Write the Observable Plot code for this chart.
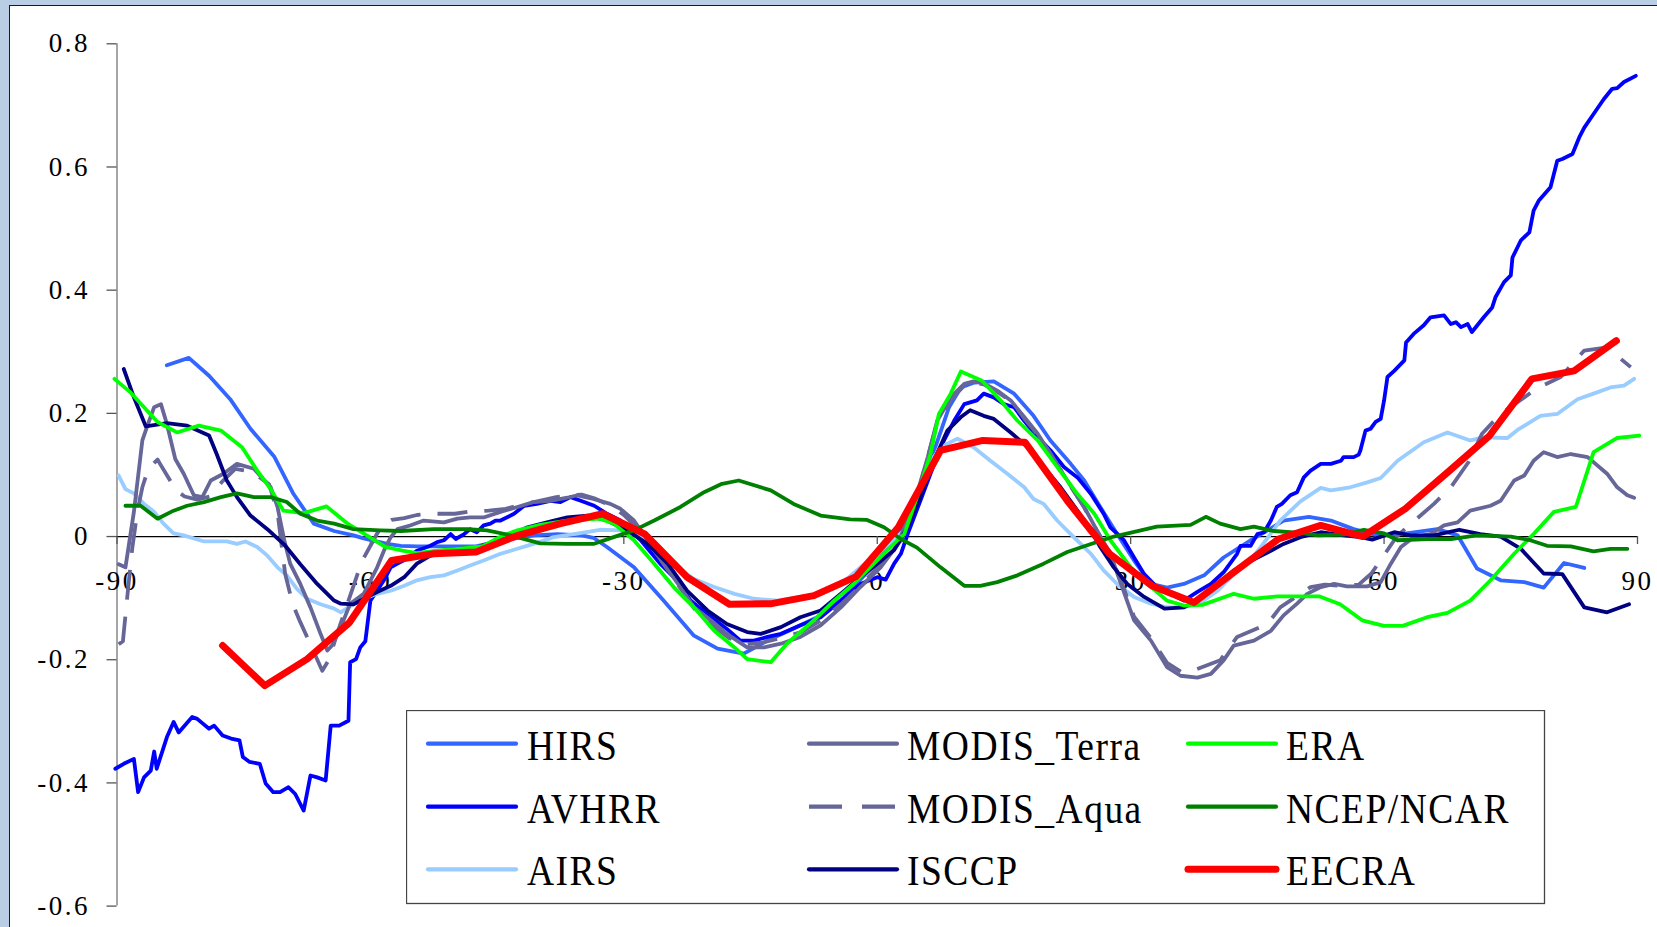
<!DOCTYPE html>
<html>
<head>
<meta charset="utf-8">
<script src="https://cdn.jsdelivr.net/npm/d3@7"></script>
<script src="https://cdn.jsdelivr.net/npm/@observablehq/plot@0.6"></script>
<style>
  html, body { margin: 0; padding: 0; background: #b9cde5; }
  #wrap { position: relative; width: 1657px; height: 927px; overflow: hidden; background: #b9cde5; }
  #panel { position: absolute; left: 9px; top: 5px; width: 1700px; height: 960px; background: #fff; border-left: 1.5px solid #1a1a1a; border-top: 1.5px solid #1a1a1a; }
  #chart { position: absolute; left: 0; top: 0; }
  #chart svg text { font-family: "Liberation Serif", serif !important; letter-spacing: 2.5px; }
  #legend { position: absolute; left: 406px; top: 710px; }
  #legend text { font-family: "Liberation Serif", serif; letter-spacing: 1.5px; }
</style>
</head>
<body>
<div id="wrap">
  <div id="panel"></div>
  <div id="chart"></div>
  <svg id="legend" width="1140" height="195"></svg>
</div>
<script>
// ---------- data (latitude, value) ----------
const xTicks = [-90, -60, -30, 0, 30, 60, 90];
const yTicks = [-0.6, -0.4, -0.2, 0, 0.2, 0.4, 0.6, 0.8];
const seriesNames = ["HIRS", "AVHRR", "AIRS", "MODIS_Terra", "MODIS_Aqua", "ISCCP", "ERA", "NCEP/NCAR", "EECRA"];

const HIRS = [[-84.1,0.278],[-81.5,0.29],[-79.1,0.261],[-76.6,0.223],[-74.2,0.175],[-71.4,0.130],[-69.1,0.069],[-68.3,0.053],[-66.7,0.021],[-64.3,0.009],[-62,0.002],[-60.8,-0.003],[-58,-0.012],[-56.4,-0.015],[-54.5,-0.016],[-50,-0.016],[-47.5,-0.016],[-44.6,-0.007],[-40.7,0.002],[-37.9,0.004],[-35,0.002],[-33.6,-0.002],[-32,-0.017],[-28.8,-0.05],[-25.3,-0.104],[-21.7,-0.161],[-18.9,-0.182],[-15.8,-0.19],[-13.0,-0.169],[-10,-0.15],[-7,-0.13],[-4,-0.10],[-2,-0.07],[0,-0.04],[2,-0.005],[3.5,0.03],[5,0.08],[7,0.15],[8.5,0.21],[9.9,0.242],[11.5,0.25],[13.8,0.252],[16.2,0.232],[18.5,0.196],[20.5,0.156],[22.9,0.118],[24.5,0.091],[26.4,0.048],[28.4,0.004],[30.4,-0.039],[32.4,-0.077],[34.3,-0.083],[36.3,-0.077],[38.7,-0.063],[41.0,-0.034],[44.2,-0.006],[46.2,0.010],[48.1,0.026],[51.1,0.032],[53.7,0.026],[56.4,0.012],[59.2,0.002],[62,0.004],[66.3,0.012],[68.7,0.002],[71.0,-0.052],[73.8,-0.071],[76.6,-0.074],[78.9,-0.083],[81.3,-0.043],[83.7,-0.051]];

const AVHRR = [[-90.2,-0.377],[-89.2,-0.369],[-88.0,-0.361],[-87.5,-0.415],[-86.8,-0.391],[-86.0,-0.380],[-85.6,-0.349],[-85.3,-0.377],[-84.1,-0.326],[-83.3,-0.301],[-82.7,-0.318],[-81.1,-0.293],[-80.5,-0.296],[-79.9,-0.303],[-79.1,-0.312],[-78.5,-0.307],[-77.5,-0.323],[-76.5,-0.328],[-75.5,-0.331],[-75.1,-0.358],[-74.3,-0.366],[-73.1,-0.369],[-72.4,-0.401],[-71.5,-0.415],[-70.7,-0.415],[-69.7,-0.407],[-68.9,-0.418],[-67.9,-0.445],[-67.1,-0.388],[-66.3,-0.391],[-65.3,-0.396],[-64.7,-0.307],[-63.7,-0.307],[-62.6,-0.299],[-62.4,-0.204],[-61.7,-0.199],[-61.2,-0.180],[-60.6,-0.170],[-60.0,-0.104],[-58.4,-0.071],[-57.6,-0.050],[-56.8,-0.044],[-55.7,-0.036],[-54.5,-0.023],[-52.9,-0.015],[-52.1,-0.009],[-51.3,-0.006],[-50.5,0.004],[-49.9,-0.004],[-48.9,0.004],[-48.2,0.012],[-47.4,0.007],[-46.6,0.018],[-45.8,0.021],[-45.2,0.026],[-44.6,0.026],[-43.0,0.037],[-41.8,0.05],[-40.3,0.053],[-38.7,0.058],[-37.5,0.056],[-36.3,0.064],[-35.1,0.058],[-33.5,0.050],[-32.0,0.037],[-30.4,0.026],[-28.0,-0.006],[-25.7,-0.044],[-23.7,-0.071],[-22.1,-0.104],[-20.1,-0.126],[-17.8,-0.150],[-16.2,-0.169],[-14.6,-0.169],[-13.0,-0.163],[-11.4,-0.158],[-9.1,-0.144],[-6.7,-0.131],[-4.3,-0.104],[-2.0,-0.077],[0,-0.066],[1.0,-0.07],[2.0,-0.044],[2.8,-0.028],[3.6,0.004],[5.1,0.058],[6.3,0.102],[7.5,0.145],[9.1,0.188],[10.3,0.215],[11.8,0.221],[12.6,0.232],[13.8,0.226],[15.0,0.215],[16.2,0.21],[17.4,0.188],[19.0,0.161],[20.5,0.140],[22.1,0.113],[23.7,0.096],[25.3,0.069],[26.8,0.037],[27.6,0.015],[29.2,-0.006],[30.4,-0.034],[31.6,-0.061],[33.1,-0.082],[34.7,-0.093],[36.3,-0.104],[37.9,-0.090],[39.5,-0.077],[41.0,-0.058],[42.6,-0.028],[43.0,-0.015],[44.2,-0.015],[45.0,0.004],[45.8,0.007],[46.6,0.026],[47.3,0.048],[47.9,0.053],[48.9,0.067],[49.7,0.072],[50.5,0.096],[51.3,0.107],[52.5,0.118],[53.7,0.118],[54.9,0.123],[55.2,0.129],[56.4,0.129],[57.0,0.133],[57.2,0.140],[57.8,0.172],[58.4,0.175],[59.0,0.186],[59.6,0.191],[60.0,0.221],[60.4,0.259],[61.2,0.269],[62.4,0.286],[62.6,0.315],[63.5,0.329],[64.7,0.343],[65.5,0.356],[67.1,0.359],[67.9,0.345],[68.5,0.348],[69.1,0.340],[69.9,0.345],[70.4,0.332],[71.8,0.356],[72.8,0.372],[73.2,0.389],[74.2,0.413],[75.0,0.424],[75.2,0.453],[76.2,0.481],[77.2,0.494],[77.7,0.529],[78.3,0.545],[79.7,0.567],[80.5,0.610],[81.1,0.613],[82.3,0.621],[83.1,0.648],[83.7,0.664],[84.8,0.686],[86.0,0.71],[87.0,0.727],[87.6,0.728],[88.4,0.738],[89.8,0.748]];

const AIRS = [[-89.8,0.099],[-89.0,0.077],[-88.0,0.070],[-86.8,0.053],[-85.6,0.040],[-84.5,0.021],[-83.3,0.005],[-82.1,0.002],[-79.7,-0.008],[-77.0,-0.008],[-75.8,-0.012],[-74.8,-0.008],[-73.4,-0.017],[-72.2,-0.031],[-71.0,-0.050],[-69.9,-0.063],[-68.7,-0.085],[-67.5,-0.101],[-65.9,-0.110],[-64.3,-0.117],[-63.5,-0.123],[-62.4,-0.113],[-60.8,-0.101],[-59.2,-0.093],[-57.6,-0.088],[-56.0,-0.080],[-54.5,-0.071],[-52.9,-0.066],[-51.3,-0.063],[-49.7,-0.055],[-48.2,-0.047],[-46.6,-0.039],[-44.6,-0.028],[-43.4,-0.023],[-40.7,-0.012],[-38.3,-0.001],[-35.9,0.004],[-32.8,0.011],[-30.4,0.010],[-28.0,-0.001],[-25.7,-0.028],[-23.7,-0.050],[-21.7,-0.069],[-19.3,-0.082],[-16.9,-0.093],[-14.6,-0.101],[-11.8,-0.104],[-9.1,-0.098],[-6.7,-0.093],[-4.3,-0.077],[-2.0,-0.050],[0,-0.028],[1.5,-0.01],[3.2,0.010],[5.1,0.069],[6.7,0.129],[7.5,0.145],[9.5,0.159],[11.4,0.145],[13.4,0.123],[15.4,0.102],[17.4,0.080],[18.5,0.061],[19.7,0.053],[21.3,0.026],[22.9,0.004],[25.3,-0.028],[26.8,-0.055],[28.4,-0.077],[30.4,-0.098],[32.4,-0.109],[34.3,-0.115],[36.3,-0.115],[38.3,-0.107],[40.3,-0.088],[42.2,-0.061],[44.2,-0.038],[45.4,-0.017],[46.6,0.005],[47.7,0.026],[50.1,0.057],[52.5,0.079],[53.7,0.075],[56.0,0.080],[58.0,0.088],[59.6,0.095],[61.6,0.123],[64.7,0.153],[67.5,0.169],[70.2,0.156],[71.8,0.161],[74.6,0.160],[75.8,0.173],[78.5,0.196],[80.5,0.199],[82.9,0.223],[84.8,0.232],[86.8,0.242],[88.4,0.245],[89.6,0.256]];

const MODIS_Terra = [[-89.8,-0.045],[-89.0,-0.05],[-88.0,0.04],[-87.0,0.156],[-86.4,0.180],[-85.6,0.210],[-84.8,0.215],[-84.1,0.183],[-83.1,0.126],[-82.1,0.102],[-80.9,0.067],[-79.9,0.064],[-78.9,0.091],[-77.4,0.102],[-75.8,0.118],[-73.8,0.110],[-71.8,0.080],[-71.0,0.048],[-70.2,-0.006],[-69.5,-0.044],[-68.3,-0.077],[-67.1,-0.115],[-65.9,-0.158],[-65.1,-0.185],[-64.5,-0.176],[-63.5,-0.147],[-62.4,-0.109],[-60.8,-0.093],[-59.2,-0.050],[-58.4,-0.023],[-57.6,-0.001],[-56.8,0.012],[-55.3,0.018],[-53.7,0.026],[-51.3,0.023],[-49.7,0.029],[-48.2,0.031],[-46.6,0.031],[-44.6,0.040],[-42.6,0.048],[-40.7,0.056],[-38.7,0.058],[-36.7,0.063],[-35.5,0.067],[-33.6,0.061],[-31.6,0.053],[-30.4,0.045],[-28.8,0.026],[-27.2,-0.006],[-25.3,-0.044],[-23.3,-0.082],[-21.7,-0.115],[-19.7,-0.136],[-17.8,-0.158],[-15.4,-0.180],[-13.4,-0.180],[-11.4,-0.174],[-9.1,-0.163],[-6.7,-0.144],[-4.3,-0.115],[-2.0,-0.082],[0.4,-0.050],[2.8,-0.006],[4.5,0.06],[6.0,0.13],[7.1,0.188],[8.7,0.226],[10.3,0.248],[11.4,0.252],[12.6,0.249],[14.2,0.237],[15.8,0.221],[17.4,0.194],[19.0,0.167],[20.5,0.134],[22.5,0.091],[24.5,0.048],[26.0,0.010],[27.6,-0.028],[28.8,-0.075],[30.4,-0.136],[32.4,-0.169],[34.3,-0.212],[35.9,-0.226],[37.9,-0.229],[39.5,-0.223],[41.0,-0.201],[42.2,-0.177],[44.6,-0.169],[46.6,-0.153],[48.1,-0.128],[49.7,-0.109],[50.9,-0.093],[52.5,-0.082],[54.1,-0.077],[55.6,-0.081],[58.0,-0.081],[59.6,-0.074],[60.8,-0.044],[62.0,-0.017],[63.5,-0.001],[65.5,0.004],[67.1,0.018],[68.7,0.023],[70.2,0.042],[72.6,0.050],[73.8,0.058],[75.4,0.091],[76.6,0.099],[77.7,0.123],[78.9,0.137],[80.5,0.129],[82.1,0.134],[84.1,0.129],[86.4,0.102],[87.6,0.080],[88.8,0.067],[89.6,0.063]];

const MODIS_Aqua = [[-89.8,-0.175],[-89.3,-0.17],[-88.8,-0.10],[-88.2,-0.02],[-87.6,0.04],[-87.0,0.08],[-86.3,0.11],[-85.2,0.125],[-84.9,0.118],[-83.0,0.075],[-82.0,0.065],[-80.5,0.06],[-79.0,0.065],[-77.5,0.09],[-76.0,0.11],[-74.0,0.105],[-72.0,0.085],[-71.0,0.04],[-70.1,-0.06],[-69.2,-0.11],[-68.3,-0.139],[-67.3,-0.169],[-65.7,-0.218],[-64.9,-0.20],[-64.0,-0.16],[-63.0,-0.12],[-62.0,-0.08],[-61.0,-0.04],[-60.0,-0.015],[-59.2,0.005],[-58.4,0.02],[-57.5,0.027],[-56.0,0.03],[-54.5,0.035],[-52.5,0.037],[-50.0,0.037],[-48.5,0.040],[-46.0,0.042],[-44.0,0.045],[-42.0,0.052],[-40.0,0.058],[-38.0,0.064],[-36.0,0.067],[-35.0,0.068],[-33.5,0.062],[-31.5,0.05],[-30.0,0.035],[-28.5,0.015],[-27.0,-0.01],[-25.0,-0.05],[-23.0,-0.09],[-21.5,-0.12],[-19.5,-0.145],[-17.5,-0.165],[-15.5,-0.175],[-13.5,-0.172],[-11.5,-0.165],[-9.0,-0.155],[-6.5,-0.135],[-4.3,-0.11],[-2.0,-0.08],[0.4,-0.045],[2.8,0.0],[5.0,0.08],[7.0,0.18],[8.7,0.222],[10.3,0.245],[11.4,0.25],[12.6,0.247],[14.2,0.235],[16.0,0.218],[17.5,0.19],[19.0,0.165],[20.5,0.135],[22.5,0.09],[24.5,0.047],[26.0,0.01],[27.6,-0.03],[28.8,-0.07],[30.4,-0.13],[32.4,-0.165],[34.3,-0.205],[36.0,-0.22],[37.3,-0.218],[40.6,-0.201],[42.6,-0.163],[46.2,-0.142],[47.7,-0.115],[51.3,-0.082],[53.0,-0.078],[55.0,-0.08],[57.0,-0.078],[58.5,-0.06],[60.0,-0.03],[61.5,0.0],[62.7,0.015],[65.9,0.053],[67.9,0.080],[70.0,0.121],[71.6,0.167],[73.8,0.199],[76.0,0.22],[78.0,0.24],[80.9,0.259],[83.7,0.302],[86.4,0.307],[89.2,0.275]];

const ISCCP = [[-89.2,0.272],[-88.0,0.226],[-86.6,0.179],[-84.1,0.184],[-81.7,0.180],[-79.1,0.164],[-78.2,0.134],[-77.0,0.091],[-75.8,0.064],[-74.2,0.034],[-72.2,0.012],[-70.2,-0.013],[-68.3,-0.045],[-66.3,-0.077],[-64.3,-0.104],[-63.5,-0.109],[-62.0,-0.110],[-60.8,-0.101],[-59.2,-0.090],[-57.6,-0.080],[-56.0,-0.066],[-54.5,-0.044],[-52.9,-0.031],[-51.3,-0.023],[-49.7,-0.020],[-47.4,-0.018],[-44.6,-0.005],[-41.4,0.015],[-39.1,0.023],[-36.7,0.031],[-34.3,0.034],[-32.0,0.026],[-29.6,0.010],[-27.2,-0.012],[-24.8,-0.044],[-22.5,-0.088],[-20.1,-0.120],[-17.8,-0.142],[-15.4,-0.155],[-13.8,-0.158],[-11.4,-0.147],[-9.1,-0.131],[-6.7,-0.120],[-4.3,-0.093],[-2.0,-0.066],[0.0,-0.044],[2.0,-0.022],[3.6,0.015],[5.1,0.064],[6.7,0.123],[8.3,0.172],[9.9,0.194],[11.0,0.205],[12.6,0.196],[13.8,0.191],[15.8,0.169],[17.8,0.145],[19.7,0.113],[21.7,0.080],[23.7,0.042],[25.3,0.010],[26.4,-0.017],[28.0,-0.050],[29.6,-0.077],[31.6,-0.098],[34.0,-0.117],[36.3,-0.115],[37.9,-0.104],[40.3,-0.077],[42.2,-0.055],[44.2,-0.040],[46.6,-0.023],[48.1,-0.012],[50.1,-0.001],[52.5,0.007],[55.2,0.002],[57.2,-0.001],[58.6,-0.005],[61.2,0.007],[63.1,0.002],[65.9,0.002],[68.9,0.011],[71.4,0.004],[73.8,0.000],[76.2,-0.020],[78.9,-0.060],[81.1,-0.061],[83.7,-0.115],[86.4,-0.123],[89.0,-0.110]];

const ERA = [[-90.3,0.256],[-88.4,0.234],[-86.8,0.210],[-85.2,0.186],[-82.9,0.169],[-80.3,0.180],[-77.7,0.172],[-75.2,0.145],[-73.4,0.107],[-71.8,0.077],[-70.3,0.042],[-67.9,0.038],[-65.2,0.049],[-62.8,0.022],[-60.2,0.0],[-58.2,-0.017],[-56.2,-0.023],[-54.5,-0.027],[-52.1,-0.023],[-49.7,-0.020],[-47.4,-0.017],[-46.6,-0.015],[-44.6,0.0],[-42.6,0.010],[-39.9,0.019],[-36.7,0.026],[-32.8,0.029],[-31.2,0.021],[-28.8,-0.006],[-26.4,-0.044],[-24.1,-0.082],[-21.7,-0.115],[-19.3,-0.153],[-16.9,-0.180],[-15.4,-0.199],[-12.6,-0.204],[-10.7,-0.174],[-7.5,-0.136],[-5.1,-0.104],[-2.8,-0.077],[-0.4,-0.044],[2.4,-0.006],[3.2,0.004],[4.7,0.064],[6.3,0.134],[7.3,0.199],[8.7,0.232],[9.9,0.268],[12.4,0.253],[14.6,0.221],[16.6,0.188],[19.0,0.156],[21.3,0.113],[23.7,0.069],[25.7,0.037],[27.6,-0.006],[30.0,-0.050],[32.0,-0.077],[34.3,-0.104],[36.3,-0.112],[38.5,-0.111],[42.2,-0.093],[44.6,-0.101],[47.4,-0.097],[50.1,-0.097],[52.3,-0.097],[54.8,-0.110],[57.4,-0.136],[60.0,-0.145],[62.2,-0.145],[65.1,-0.131],[67.5,-0.124],[70.2,-0.104],[72.6,-0.071],[75.4,-0.028],[77.7,0.004],[80.1,0.040],[82.7,0.048],[84.8,0.137],[87.6,0.160],[90.2,0.164]];

const NCEP_NCAR = [[-89.0,0.050],[-87.2,0.050],[-85.2,0.029],[-83.3,0.042],[-81.7,0.050],[-79.7,0.056],[-77.7,0.064],[-75.8,0.070],[-73.8,0.064],[-71.8,0.064],[-69.9,0.056],[-68.3,0.037],[-66.3,0.026],[-64.3,0.021],[-62.0,0.012],[-58.8,0.010],[-56.4,0.009],[-52.5,0.012],[-48.5,0.012],[-46.2,0.010],[-43.4,0.002],[-39.9,-0.011],[-36.7,-0.012],[-33.6,-0.012],[-31.2,-0.001],[-28.8,0.010],[-26.4,0.026],[-23.3,0.048],[-20.5,0.072],[-18.5,0.085],[-16.4,0.091],[-12.6,0.075],[-9.9,0.053],[-6.7,0.034],[-3.2,0.028],[-1.2,0.027],[0.8,0.015],[2.8,-0.004],[4.7,-0.018],[7.5,-0.050],[10.3,-0.080],[12.2,-0.080],[14.2,-0.074],[16.6,-0.063],[19.7,-0.044],[22.5,-0.025],[25.3,-0.012],[28.0,0.000],[31.2,0.010],[33.1,0.016],[37.1,0.019],[38.9,0.032],[40.6,0.021],[43.0,0.012],[44.6,0.016],[46.9,0.009],[50.1,0.006],[52.1,0.002],[55.2,0.003],[57.6,0.011],[60.0,0.005],[61.6,-0.006],[65.1,-0.004],[67.9,-0.004],[71.0,0.002],[75.0,0.000],[77.3,-0.006],[79.3,-0.015],[82.1,-0.016],[84.8,-0.024],[86.8,-0.020],[88.8,-0.020]];

const EECRA = [[-77.5,-0.177],[-72.5,-0.242],[-67.5,-0.199],[-62.5,-0.140],[-57.5,-0.039],[-52.5,-0.028],[-47.5,-0.025],[-42.5,0.002],[-37.5,0.021],[-32.5,0.037],[-27.5,0.004],[-22.5,-0.066],[-17.5,-0.110],[-12.5,-0.109],[-7.5,-0.096],[-2.5,-0.065],[2.5,0.015],[7.5,0.140],[12.5,0.156],[17.5,0.153],[22.5,0.058],[27.5,-0.028],[32.5,-0.080],[37.5,-0.107],[42.5,-0.055],[47.5,-0.004],[52.5,0.018],[57.5,0.000],[62.5,0.045],[67.5,0.104],[72.5,0.164],[77.5,0.256],[82.5,0.269],[87.5,0.318]];

const seriesData = [HIRS, AVHRR, AIRS, MODIS_Terra, MODIS_Aqua, ISCCP, ERA, NCEP_NCAR, EECRA];

// ---------- styles ----------
const styles = {
  "HIRS":        {stroke: "#3366ff", width: 3.8},
  "AVHRR":       {stroke: "#0000ff", width: 3.8},
  "AIRS":        {stroke: "#99ccff", width: 3.8},
  "MODIS_Terra": {stroke: "#666699", width: 3.8},
  "MODIS_Aqua":  {stroke: "#666699", width: 3.8, dash: "30,17"},
  "ISCCP":       {stroke: "#000080", width: 3.8},
  "ERA":         {stroke: "#00ff00", width: 3.8},
  "NCEP/NCAR":   {stroke: "#008000", width: 3.8},
  "EECRA":       {stroke: "#ff0000", width: 7}
};

const font = "Liberation Serif";
const fmtY = d => d === 0 ? "0" : d.toFixed(1);

const lineMarks = seriesNames.map((name, i) => {
  const s = styles[name];
  return Plot.line(seriesData[i], {
    x: d => d[0], y: d => d[1],
    stroke: s.stroke, strokeWidth: s.width,
    strokeDasharray: s.dash,
    strokeLinejoin: "round",
    strokeLinecap: s.dash ? "butt" : "round"
  });
});

const plot = Plot.plot({
  width: 1657,
  height: 927,
  marginLeft: 116.5,
  marginRight: 20,
  marginTop: 43.3,
  marginBottom: 21.4,
  x: {domain: [-90, 90], axis: null},
  y: {domain: [-0.6, 0.8], axis: null},
  style: {background: "transparent", fontFamily: font, overflow: "visible"},
  marks: [
    // y axis line and ticks
    Plot.ruleX([-90], {stroke: "#7f7f7f", strokeWidth: 1.4}),
    Plot.ruleY(yTicks, {y: d => d, x1: -90, x2: -90, insetLeft: -10, stroke: "#555", strokeWidth: 1.3}),
    Plot.text(yTicks, {x: -90, y: d => d, dx: -27, textAnchor: "end", text: fmtY, fontSize: 27, fontFamily: font, fill: "#000"}),
    // zero line acting as x axis
    Plot.ruleY([0], {stroke: "#000", strokeWidth: 1.3}),
    Plot.ruleX(xTicks, {x: d => d, y1: 0, y2: 0, insetBottom: -8, stroke: "#555", strokeWidth: 1.3}),
    Plot.text(xTicks, {x: d => d, y: 0, dy: 45, text: d => String(d), fontSize: 27, fontFamily: font, fill: "#000"}),
    ...lineMarks
  ]
});
d3.select(plot).selectAll("text")
  .attr("font-family", font)
  .style("font-family", "'Liberation Serif', serif");
document.getElementById("chart").appendChild(plot);

// ---------- legend ----------
const leg = d3.select("#legend");
leg.append("rect").attr("x", 0.5).attr("y", 0.5).attr("width", 1138).attr("height", 193)
  .attr("fill", "#fff").attr("stroke", "#444").attr("stroke-width", 1.3);
const colSwatch = [20, 401, 780];
const colText = [121, 501, 880];
const rowLine = [33.7, 96.7, 159.3];
const rowBase = [50, 113, 175];
seriesNames.forEach((name, i) => {
  const c = Math.floor(i / 3), r = i % 3;
  const s = styles[name];
  leg.append("line")
    .attr("x1", colSwatch[c] + 2).attr("x2", colSwatch[c] + 90)
    .attr("y1", rowLine[r]).attr("y2", rowLine[r])
    .attr("stroke", s.stroke)
    .attr("stroke-width", name === "EECRA" ? 7 : 4.2)
    .attr("stroke-linecap", s.dash ? "butt" : "round")
    .attr("stroke-dasharray", s.dash ? "33,20" : null);
  leg.append("text")
    .attr("transform", `translate(${colText[c]},${rowBase[r]}) scale(1,1.13)`)
    .attr("font-size", 37.5)
    .attr("fill", "#000")
    .text(name);
});
</script>
</body>
</html>
